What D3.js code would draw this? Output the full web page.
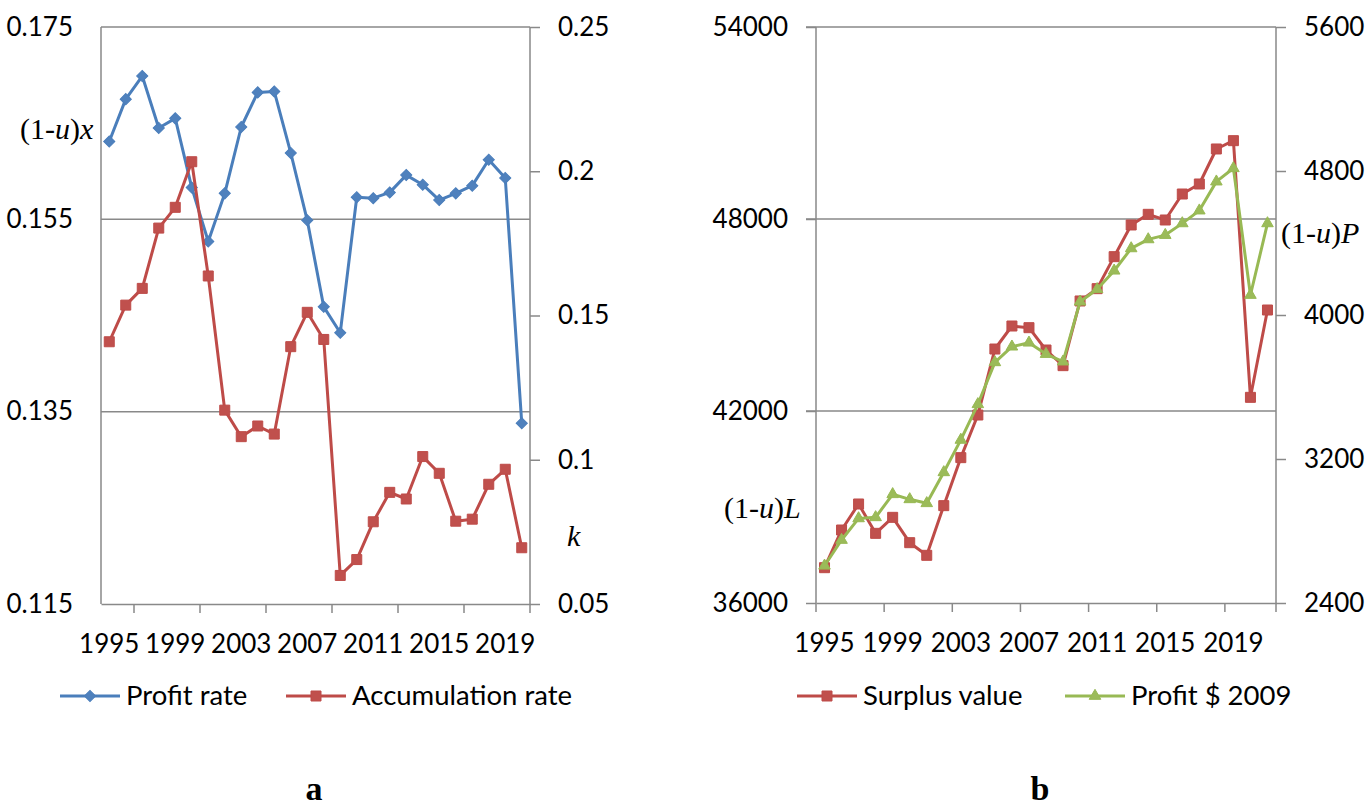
<!DOCTYPE html>
<html>
<head>
<meta charset="utf-8">
<script src="https://cdn.jsdelivr.net/npm/d3@7"></script>
<style>
  html, body { margin: 0; padding: 0; background: #fff; }
  svg { display: block; }
</style>
</head>
<body>
<svg id="chart" width="1369" height="812"></svg>
<script>
// ---------- DATA ----------
const yearsA = [1995,1996,1997,1998,1999,2000,2001,2002,2003,2004,2005,2006,2007,2008,2009,2010,2011,2012,2013,2014,2015,2016,2017,2018,2019,2020];
const profitRate = [0.1631,0.1675,0.1699,0.1645,0.1655,0.1583,0.1527,0.1577,0.1646,0.1682,0.1683,0.1619,0.1549,0.1459,0.1432,0.1573,0.1572,0.1578,0.1596,0.1586,0.1570,0.1577,0.1585,0.1612,0.1593,0.1338];
const accumulationRate = [0.1409,0.1536,0.1594,0.1803,0.1875,0.2033,0.1637,0.1172,0.1080,0.1117,0.1089,0.1392,0.1511,0.1417,0.0599,0.0654,0.0785,0.0887,0.0864,0.1011,0.0953,0.0787,0.0794,0.0915,0.0967,0.0695];

const yearsB = [1995,1996,1997,1998,1999,2000,2001,2002,2003,2004,2005,2006,2007,2008,2009,2010,2011,2012,2013,2014,2015,2016,2017,2018,2019,2020,2021];
const surplusValue = [37104,38281,39094,38177,38677,37885,37490,39042,40542,41875,43937,44656,44604,43906,43417,45438,45823,46823,47813,48146,47969,48781,49094,50188,50448,42427,45156];
const profit2009 = [2607,2750,2870,2876,3004,2976,2954,3126,3306,3504,3737,3824,3846,3783,3741,4074,4143,4246,4370,4420,4444,4509,4580,4741,4815,4111,4509];

const xLabelYears = [1995,1999,2003,2007,2011,2015,2019];
const ticksA_left = [0.115,0.135,0.155,0.175];
const ticksA_right = [0.05,0.1,0.15,0.2,0.25];
const ticksB_left = [36000,42000,48000,54000];
const ticksB_right = [2400,3200,4000,4800,5600];

// ---------- STYLE ----------
const GRAY = "#898989";
const BLUE = {line:"#4A7EBB", fill:"#4F81BD"};
const RED = {line:"#BE4B48", fill:"#C0504D"};
const GREEN = {line:"#98B954", fill:"#9BBB59"};
const SANS = "Lato, 'Open Sans', sans-serif";
const SERIF = "'Liberation Serif', 'DejaVu Serif', serif";

const svg = d3.select("#chart");

function symbolPath(kind) {
  if (kind === "diamond") return d3.symbol().type(d3.symbolSquare).size(62)();
  if (kind === "square") return d3.symbol().type(d3.symbolSquare).size(100)();
  return d3.symbol().type(d3.symbolTriangle).size(58)();
}

function panel(cfg) {
  const g = svg.append("g");
  const x = d3.scaleBand().domain(cfg.years).range([cfg.left, cfg.right]).padding(0);
  const yL = d3.scaleLinear().domain(cfg.leftDomain).range([cfg.bottom, cfg.top]);
  const yR = d3.scaleLinear().domain(cfg.rightDomain).range([cfg.bottom, cfg.top]);
  const cx = d => x(d) + x.bandwidth() / 2;

  // gridlines (from left axis ticks)
  g.append("g").selectAll("line").data(cfg.leftTicks.slice(1)).join("line")
    .attr("x1", cfg.left - cfg.leftTickLen).attr("x2", cfg.right)
    .attr("y1", d => yL(d)).attr("y2", d => yL(d))
    .attr("stroke", GRAY).attr("stroke-width", 1.5);

  // left axis
  const axL = d3.axisLeft(yL).tickValues(cfg.leftTicks).tickSize(cfg.leftTickLen).tickPadding(28 - cfg.leftTickLen).tickFormat(cfg.leftFormat);
  const gl = g.append("g").attr("transform", `translate(${cfg.left},0)`).call(axL);
  // right axis
  const axR = d3.axisRight(yR).tickValues(cfg.rightTicks).tickSize(10).tickPadding(cfg.rightPad).tickFormat(cfg.rightFormat);
  const gr = g.append("g").attr("transform", `translate(${cfg.right},0)`).call(axR);
  // bottom axis with labels at category centres
  const axB = d3.axisBottom(x).tickValues(xLabelYears).tickSize(0).tickPadding(30);
  const gb = g.append("g").attr("transform", `translate(0,${cfg.bottom})`).call(axB);
  // bottom tick marks at category boundaries
  const step = x.step();
  g.append("g").selectAll("line").data(cfg.boundaryTicks).join("line")
    .attr("x1", k => cfg.left + k * step).attr("x2", k => cfg.left + k * step)
    .attr("y1", cfg.bottom).attr("y2", cfg.bottom + 9)
    .attr("stroke", GRAY).attr("stroke-width", 1.5);

  [gl, gr, gb].forEach(a => {
    a.select(".domain").attr("stroke", GRAY).attr("stroke-width", 1.5);
    a.selectAll(".tick line").attr("stroke", GRAY).attr("stroke-width", 1.5);
    a.selectAll(".tick text").attr("fill", "#000").style("font-family", SANS).style("font-size", "26px");
  });
  gl.select(".domain").attr("d", `M0,${cfg.bottom}V${cfg.top}`);
  gr.select(".domain").attr("d", `M0,${cfg.bottom}V${cfg.top}`);
  if (cfg.leftTickLen === 0) gl.selectAll(".tick line").remove();
  gb.selectAll(".tick text").attr("dy", "0.72em");

  // series
  cfg.series.forEach(s => {
    const ys = s.axis === "left" ? yL : yR;
    const line = d3.line().x((d, i) => cx(cfg.years[i])).y(d => ys(d));
    g.append("path").datum(s.values).attr("d", line)
      .attr("fill", "none").attr("stroke", s.color.line).attr("stroke-width", 3)
      .attr("stroke-linejoin", "round");
    g.append("g").selectAll("path").data(s.values).join("path")
      .attr("d", symbolPath(s.marker))
      .attr("transform", (d, i) => `translate(${cx(cfg.years[i])},${ys(d)})` + (s.marker === "diamond" ? " rotate(45)" : ""))
      .attr("fill", s.color.fill).attr("stroke", s.color.line).attr("stroke-width", 1);
  });

  // legend
  cfg.legend.forEach(l => {
    const lg = g.append("g");
    lg.append("line").attr("x1", l.x).attr("x2", l.x + 60).attr("y1", 696).attr("y2", 696)
      .attr("stroke", l.color.line).attr("stroke-width", 3);
    lg.append("path").attr("d", symbolPath(l.marker))
      .attr("transform", `translate(${l.x + 30},696)` + (l.marker === "diamond" ? " rotate(45)" : ""))
      .attr("fill", l.color.fill).attr("stroke", l.color.line);
    lg.append("text").attr("x", l.x + 66).attr("y", 705).text(l.label)
      .style("font-family", SANS).style("font-size", "27.5px").attr("fill", "#000");
  });

  // serif axis annotations
  cfg.notes.forEach(n => {
    const t = g.append("text").attr("x", n.x).attr("y", n.y)
      .style("font-family", SERIF).style("font-size", "30px").attr("fill", "#000");
    n.parts.forEach(p => t.append("tspan").text(p[0]).style("font-style", p[1] ? "italic" : "normal"));
  });

  g.append("text").attr("x", cfg.letterX).attr("y", 800).attr("text-anchor", "middle")
    .style("font-family", SERIF).style("font-weight", "bold").style("font-size", "34px")
    .text(cfg.letter);
}

const fmtRight = d => String(+d.toFixed(2));

panel({
  years: yearsA, left: 101, right: 530, top: 27, bottom: 604,
  leftDomain: [0.115, 0.175], rightDomain: [0.05, 0.25],
  leftTicks: ticksA_left, rightTicks: ticksA_right,
  leftFormat: d3.format(".3f"), rightFormat: fmtRight,
  leftTickLen: 0, rightPad: 18,
  boundaryTicks: [2, 6, 10, 14, 18, 22, 26],
  series: [
    {values: profitRate, axis: "left", color: BLUE, marker: "diamond"},
    {values: accumulationRate, axis: "right", color: RED, marker: "square"}
  ],
  legend: [
    {x: 60, color: BLUE, marker: "diamond", label: "Profit rate"},
    {x: 286, color: RED, marker: "square", label: "Accumulation rate"}
  ],
  notes: [
    {x: 20, y: 139, parts: [["(1-", false], ["u", true], [")", false], ["x", true]]},
    {x: 567, y: 546, parts: [["k", true]]}
  ],
  letter: "a", letterX: 314
});

panel({
  years: yearsB, left: 816, right: 1276, top: 27, bottom: 603,
  leftDomain: [36000, 54000], rightDomain: [2400, 5600],
  leftTicks: ticksB_left, rightTicks: ticksB_right,
  leftFormat: d3.format("d"), rightFormat: d3.format("d"),
  leftTickLen: 10, rightPad: 18,
  boundaryTicks: [0, 4, 8, 12, 16, 20, 24, 27],
  series: [
    {values: surplusValue, axis: "left", color: RED, marker: "square"},
    {values: profit2009, axis: "right", color: GREEN, marker: "triangle"}
  ],
  legend: [
    {x: 797, color: RED, marker: "square", label: "Surplus value"},
    {x: 1065, color: GREEN, marker: "triangle", label: "Profit $ 2009"}
  ],
  notes: [
    {x: 724, y: 518, parts: [["(1-", false], ["u", true], [")", false], ["L", true]]},
    {x: 1281, y: 243, parts: [["(1-", false], ["u", true], [")", false], ["P", true]]}
  ],
  letter: "b", letterX: 1040
});
</script>
</body>
</html>
